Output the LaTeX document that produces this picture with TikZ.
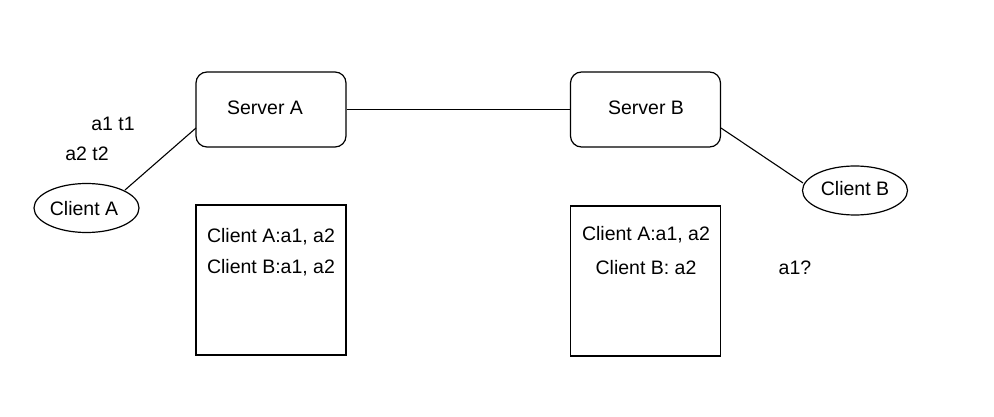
\documentclass[tikz,border=0pt]{standalone}
\usepackage{fontspec}
\setmainfont{Liberation Sans}
\usetikzlibrary{shapes.geometric}
\begin{document}
\begin{tikzpicture}[x=1pt,y=-1pt,
  every node/.style={font=\fontsize{19.5}{23}\selectfont},
  server/.style={draw,line width=1.2pt,rounded corners=11pt,minimum width=150pt,minimum height=75pt,inner sep=0pt},
  client/.style={draw,line width=1.2pt,ellipse,minimum width=105pt,minimum height=49pt,inner sep=0pt},
  membox/.style={draw,line width=1.2pt,minimum width=150pt,minimum height=150pt,inner sep=0pt},
  link/.style={line width=1.1pt},
  lbl/.style={inner sep=0pt,anchor=center}]
\useasboundingbox (0,0) rectangle (994,417);
\node[server] (sa) at (271,109.5) {};
\node[lbl] (sat) at (265,108) {Server A};
\node[server] (sb) at (645.5,109.5) {};
\node[lbl] (sbt) at (646,108) {Server B};
\node[client] (ca) at (86.5,208) {};
\node[lbl] (cat) at (84,209) {Client A};
\node[client] (cb) at (855,190.5) {};
\node[lbl] (cbt) at (855,189) {Client B};
\node[membox] (ma) at (271,280) {};
\node[membox] (mb) at (645.5,281) {};
\node[lbl] (ma1) at (271,237) {Client A:a1, a2};
\node[lbl] (ma2) at (271,268) {Client B:a1, a2};
\node[lbl] (mb1) at (646,235) {Client A:a1, a2};
\node[lbl] (mb2) at (646,268) {Client B: a2};
\node[lbl] (q) at (795,268) {a1?};
\node[lbl] (t1) at (113,124) {a1 t1};
\node[lbl] (t2) at (87,154) {a2 t2};
\draw[link] (sa.east) -- (sb.west);
\coordinate (saL) at (196,128);
\coordinate (caR) at (125,190);
\coordinate (sbR) at (721,128);
\coordinate (cbL) at (803,183);
\draw[link] (caR) -- (saL);
\draw[link] (sbR) -- (cbL);
\end{tikzpicture}
\end{document}
